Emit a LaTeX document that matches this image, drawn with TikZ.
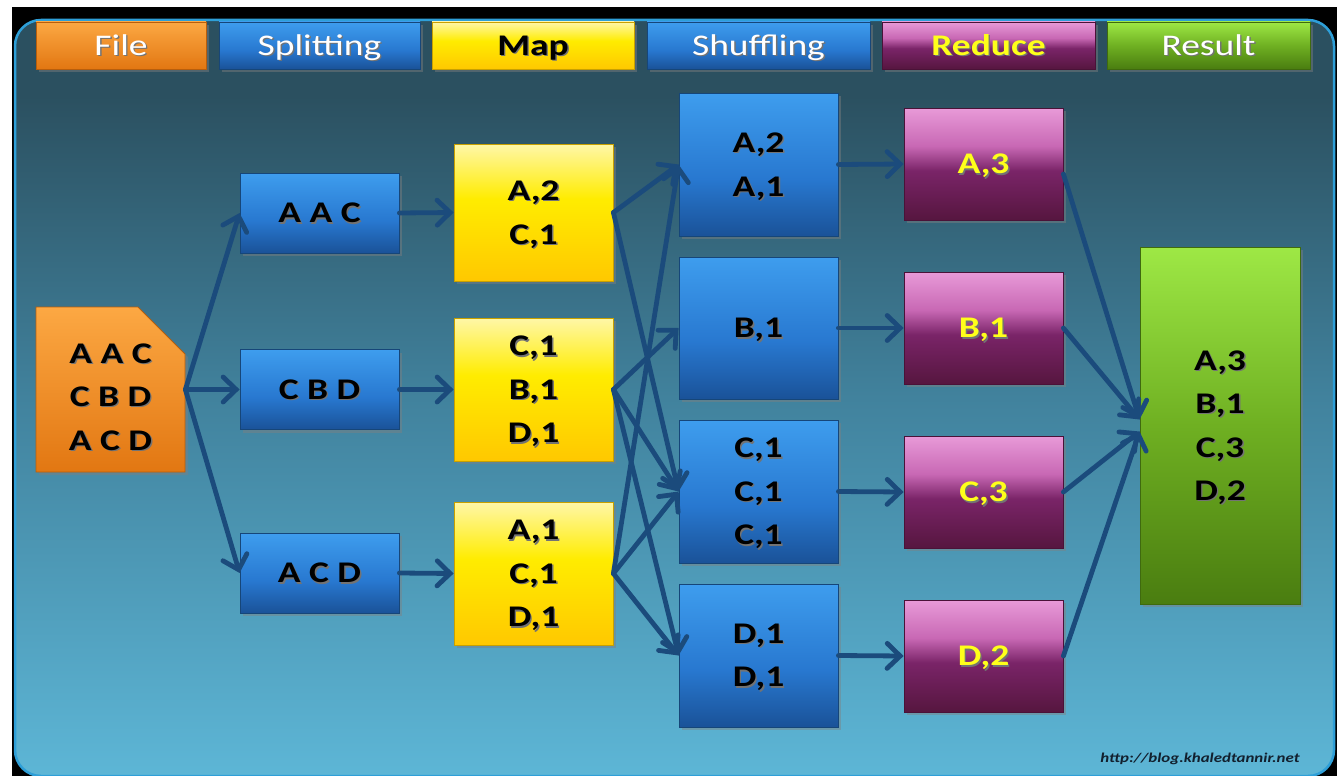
\documentclass[tikz,border=0pt]{standalone}
\usepackage{fontspec}
\setmainfont{Carlito}[FakeStretch=1.25]
\usetikzlibrary{arrows.meta,shadows,shapes.misc}

% palette
\definecolor{bgTop}{HTML}{2B5060}
\definecolor{bgMid}{HTML}{41829D}
\definecolor{bgBot}{HTML}{5DB6D6}
\definecolor{bgEdge}{HTML}{2E9FD8}
\definecolor{arrowBlue}{HTML}{1B4B7C}
\definecolor{blueTop}{HTML}{3E9DEE}
\definecolor{blueMid}{HTML}{2878D0}
\definecolor{blueBot}{HTML}{1A5298}
\definecolor{blueEdge}{HTML}{164679}
\definecolor{yelTop}{HTML}{FFF7A8}
\definecolor{yelMid}{HTML}{FFEC00}
\definecolor{yelBot}{HTML}{FFC800}
\definecolor{yelEdge}{HTML}{C8A000}
\definecolor{purTop}{HTML}{E89AD8}
\definecolor{purUp}{HTML}{C868B4}
\definecolor{purMid}{HTML}{7A2468}
\definecolor{purBot}{HTML}{56163F}
\definecolor{purEdge}{HTML}{4A1238}
\definecolor{grnTop}{HTML}{9EE845}
\definecolor{grnMid}{HTML}{6FB022}
\definecolor{grnBot}{HTML}{4A7D10}
\definecolor{grnEdge}{HTML}{3F6A0E}
\definecolor{orTop}{HTML}{FCA843}
\definecolor{orBot}{HTML}{E27712}
\definecolor{orEdge}{HTML}{B85E0C}
\definecolor{yelText}{HTML}{FFFF1A}
\definecolor{urlText}{HTML}{12202E}

% vertical shadings (the path spans 25bp..75bp)
\pgfdeclareverticalshading{bgshade}{100bp}{color(0bp)=(bgBot); color(25bp)=(bgBot); color(50bp)=(bgMid); color(70bp)=(bgTop); color(100bp)=(bgTop)}
\pgfdeclareverticalshading{blueshade}{100bp}{color(0bp)=(blueBot); color(25bp)=(blueBot); color(45bp)=(blueMid); color(75bp)=(blueTop); color(100bp)=(blueTop)}
\pgfdeclareverticalshading{yelshade}{100bp}{color(0bp)=(yelBot); color(25bp)=(yelBot); color(55bp)=(yelMid); color(75bp)=(yelTop); color(100bp)=(yelTop)}
\pgfdeclareverticalshading{purshade}{100bp}{color(0bp)=(purBot); color(25bp)=(purBot); color(47bp)=(purMid); color(58bp)=(purUp); color(75bp)=(purTop); color(100bp)=(purTop)}
\pgfdeclareverticalshading{grnshade}{100bp}{color(0bp)=(grnBot); color(25bp)=(grnBot); color(50bp)=(grnMid); color(75bp)=(grnTop); color(100bp)=(grnTop)}
\pgfdeclareverticalshading{orshade}{100bp}{color(0bp)=(orBot); color(25bp)=(orBot); color(75bp)=(orTop); color(100bp)=(orTop)}

\newcommand{\boxfont}{\fontsize{30}{43.5}\selectfont\bfseries}
\newcommand{\headfont}{\fontsize{30}{34}\selectfont}
% text with a soft dark offset shadow
\newcommand{\shadowed}[2]{\leavevmode\rlap{\hspace{1.4pt}\raisebox{-1.4pt}{\textcolor{black!55}{#2}}}\textcolor{#1}{#2}}
\newcommand{\bk}[1]{\shadowed{black}{#1}}

\tikzset{
  softshadow/.style={drop shadow={shadow xshift=3pt, shadow yshift=-3pt, opacity=0.45}},
  box/.style={rectangle, inner sep=0pt, align=center, line width=0.8pt,
              text=black, font=\boxfont, text depth=0pt, softshadow},
  bluebox/.style={box, shading=blueshade, draw=blueEdge},
  yelbox/.style={box, shading=yelshade, draw=yelEdge},
  purbox/.style={box, shading=purshade, draw=purEdge},
  grnbox/.style={box, shading=grnshade, draw=grnEdge},
  filedoc/.style={box, chamfered rectangle, chamfered rectangle corners=north east,
              chamfered rectangle xsep=25pt, chamfered rectangle ysep=22pt,
              shading=orshade, draw=orEdge},
  head/.style={rectangle, inner sep=0pt, minimum height=47pt, line width=0.8pt,
              font=\headfont, text height=19.3pt, text depth=0pt, softshadow},
  arr/.style={draw=arrowBlue, line width=4.8pt, line cap=round,
              -{Straight Barb[length=13pt,width=25pt,line cap=round]}}
}

\begin{document}
\begin{tikzpicture}[x=1pt,y=-1pt]
\useasboundingbox (0,0) rectangle (1341,776);
\fill[white] (0,0) rectangle (1341,776);
\fill[black] (12,7) rectangle (1337,776);
\path[shading=bgshade, draw=bgEdge, line width=2.5pt, rounded corners=26pt]
  (15,20) rectangle (1334,776);

% stage headers
\node[head, shading=orshade, draw=orEdge, minimum width=170pt] (hFile) at (121,45.5) {\shadowed{white}{File}};
\node[head, shading=blueshade, draw=blueEdge, minimum width=201pt] (hSplit) at (319.5,45.5) {\shadowed{white}{Splitting}};
\node[head, shading=yelshade, draw=yelEdge, minimum width=202pt, font=\headfont\bfseries] (hMap) at (533,45.5) {\bk{Map}};
\node[head, shading=blueshade, draw=blueEdge, minimum width=223pt] (hShuf) at (758.5,45.5) {\shadowed{white}{Shuffling}};
\node[head, shading=purshade, draw=purEdge, minimum width=213pt, font=\headfont\bfseries] (hRed) at (988.5,45.5) {\shadowed{yelText}{Reduce}};
\node[head, shading=grnshade, draw=grnEdge, minimum width=203pt] (hRes) at (1208.5,45.5) {\shadowed{white}{Result}};

% input file (the strut on the first line sets the text a little below centre)
\node[filedoc, minimum width=149pt, minimum height=163pt] (file) at (110.5,389.5) {\rule{0pt}{34pt}\bk{A A C}\\\bk{C B D}\\\bk{A C D}};

% splitting
\node[bluebox, minimum width=159pt, minimum height=80pt] (sp1) at (319.5,213) {\bk{A A C}};
\node[bluebox, minimum width=159pt, minimum height=80pt] (sp2) at (319.5,389.5) {\bk{C B D}};
\node[bluebox, minimum width=159pt, minimum height=80pt] (sp3) at (319.5,573) {\bk{A C D}};

% mapping
\node[yelbox, minimum width=159pt, minimum height=137pt] (mp1) at (533.5,212.5) {\bk{A,2}\\\bk{C,1}};
\node[yelbox, minimum width=159pt, minimum height=143pt] (mp2) at (533.5,389.5) {\bk{C,1}\\\bk{B,1}\\\bk{D,1}};
\node[yelbox, minimum width=159pt, minimum height=143pt] (mp3) at (533.5,573.5) {\bk{A,1}\\\bk{C,1}\\\bk{D,1}};

% shuffling
\node[bluebox, minimum width=159pt, minimum height=143pt] (sh1) at (758.5,164.5) {\bk{A,2}\\\bk{A,1}};
\node[bluebox, minimum width=159pt, minimum height=142pt] (sh2) at (758.5,328) {\bk{B,1}};
\node[bluebox, minimum width=159pt, minimum height=143pt] (sh3) at (758.5,491.5) {\bk{C,1}\\\bk{C,1}\\\bk{C,1}};
\node[bluebox, minimum width=159pt, minimum height=143pt] (sh4) at (758.5,655.5) {\bk{D,1}\\\bk{D,1}};

% reducing
\node[purbox, minimum width=159pt, minimum height=112pt] (rd1) at (983.5,164) {\shadowed{yelText}{A,3}};
\node[purbox, minimum width=159pt, minimum height=112pt] (rd2) at (983.5,328) {\shadowed{yelText}{B,1}};
\node[purbox, minimum width=159pt, minimum height=112pt] (rd3) at (983.5,492) {\shadowed{yelText}{C,3}};
\node[purbox, minimum width=159pt, minimum height=112pt] (rd4) at (983.5,656) {\shadowed{yelText}{D,2}};

% final result
\node[grnbox, minimum width=160pt, minimum height=357pt] (res) at (1220,425.5) {\bk{A,3}\\\bk{B,1}\\\bk{C,3}\\\bk{D,2}};

% connectors
\draw[arr] (file.east) -- (sp1.west);
\draw[arr] (file.east) -- (sp2.west);
\draw[arr] (file.east) -- (sp3.west);

\draw[arr] (sp1.east) -- (mp1.west);
\draw[arr] (sp2.east) -- (mp2.west);
\draw[arr] (sp3.east) -- (mp3.west);

\draw[arr] (mp1.east) -- (sh1.west);
\draw[arr] (mp1.east) -- (sh3.west);
\draw[arr] (mp2.east) -- (sh2.west);
\draw[arr] (mp2.east) -- (sh3.west);
\draw[arr] (mp2.east) -- (sh4.west);
\draw[arr] (mp3.east) -- (sh1.west);
\draw[arr] (mp3.east) -- (sh3.west);
\draw[arr] (mp3.east) -- (sh4.west);

\draw[arr] (sh1.east) -- (rd1.west);
\draw[arr] (sh2.east) -- (rd2.west);
\draw[arr] (sh3.east) -- (rd3.west);
\draw[arr] (sh4.east) -- (rd4.west);

\draw[arr] ([yshift=-10pt]rd1.east) -- ([yshift=6pt]res.west);
\draw[arr] (rd2.east) -- ([yshift=6pt]res.west);
\draw[arr] (rd3.east) -- ([yshift=-6pt]res.west);
\draw[arr] (rd4.east) -- ([yshift=-6pt]res.west);

\node[font=\fontsize{13.5}{16}\selectfont\bfseries\itshape, text=urlText, anchor=base] (url) at (1200,762) {http://blog.khaledtannir.net};
\end{tikzpicture}
\end{document}
